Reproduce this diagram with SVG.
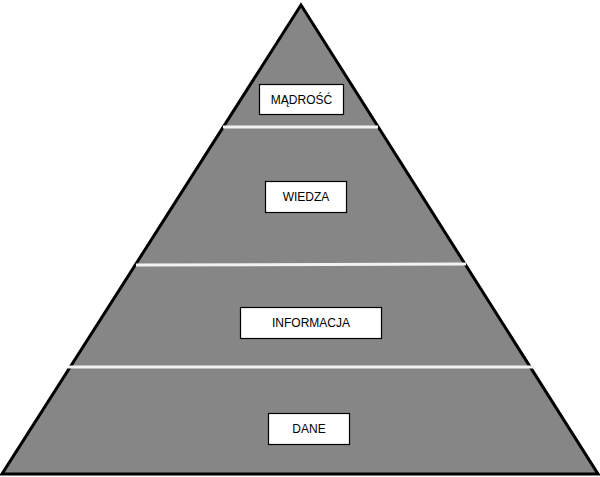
<svg xmlns="http://www.w3.org/2000/svg" width="600" height="477" viewBox="0 0 600 477">
<style>
.box{fill:#fff;stroke:#000;stroke-width:1.2}
.t{font-family:"Liberation Sans",Arial,sans-serif;font-size:12px;text-anchor:middle;fill:#000}
.sep{stroke:#f2f2f2;stroke-width:3}
</style>
<rect width="600" height="477" fill="#fff"/>
<g id="pyramid"><polygon points="301,5 598,474 2,474" fill="#868686" stroke="#000" stroke-width="3" stroke-linejoin="miter"/></g>
<g id="connectors">
<line class="sep" x1="223" y1="127" x2="378" y2="127"/>
<line class="sep" x1="136" y1="265" x2="466" y2="264"/>
<line class="sep" x1="68" y1="367" x2="535" y2="367"/>
</g>
<g id="madrosc"><rect class="box" x="259.5" y="84.5" width="84" height="30"/><text class="t" x="301.5" y="104">MĄDROŚĆ</text></g>
<g id="wiedza"><rect class="box" x="265.5" y="181.5" width="81" height="31"/><text class="t" x="306" y="201">WIEDZA</text></g>
<g id="informacja"><rect class="box" x="240.5" y="307.5" width="141" height="31"/><text class="t" x="311" y="327">INFORMACJA</text></g>
<g id="dane"><rect class="box" x="268.5" y="413.5" width="81" height="31"/><text class="t" x="309" y="433">DANE</text></g>
</svg>
